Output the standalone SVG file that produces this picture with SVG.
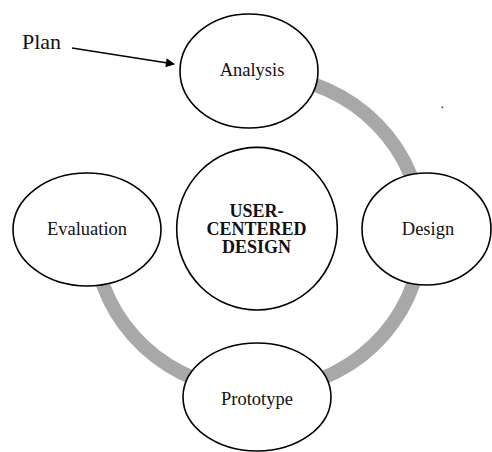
<svg xmlns="http://www.w3.org/2000/svg" width="492" height="452" viewBox="0 0 492 452">
  <style>
    .serif { font-family: 'Liberation Serif', Tinos, 'Times New Roman', 'DejaVu Serif', serif; }
    .node { fill: #ffffff; stroke: #000000; stroke-width: 1.6; }
    .label { font-size: 18.5px; fill: #111111; text-anchor: middle; }
    .core { font-size: 18px; font-weight: bold; fill: #111111; text-anchor: middle; }
    .ring { fill: none; stroke: #a8a8a8; stroke-width: 14; }
    .arrow { stroke: #000000; stroke-width: 1.6; fill: none; }
  </style>
  <defs>
    <marker id="head" viewBox="0 0 10 10" refX="9" refY="5" markerWidth="11" markerHeight="9" orient="auto" markerUnits="userSpaceOnUse">
      <path d="M0,0 L10,5 L0,10 z" fill="#000000"/>
    </marker>
  </defs>

  <rect width="492" height="452" fill="#ffffff"/>

  <!-- connectors: the cycle ring and the Plan pointer -->
  <g id="connectors">
    <path class="ring" d="M 99.6 273.9 A 164 158 0 1 0 272.3 75.6"/>
    <line class="arrow" x1="72" y1="48" x2="174" y2="64" marker-end="url(#head)"/>
  </g>

  <text class="serif" x="22" y="48.5" font-size="22" fill="#111111">Plan</text>

  <g id="analysis">
    <ellipse class="node" cx="249" cy="71" rx="69" ry="57"/>
    <text class="serif label" x="252" y="76">Analysis</text>
  </g>

  <g id="design">
    <ellipse class="node" cx="426.5" cy="229" rx="64.5" ry="56"/>
    <text class="serif label" x="428" y="235">Design</text>
  </g>

  <g id="prototype">
    <ellipse class="node" cx="257" cy="397" rx="74" ry="54"/>
    <text class="serif label" x="257" y="405">Prototype</text>
  </g>

  <g id="evaluation">
    <ellipse class="node" cx="87" cy="229.5" rx="74" ry="56.5"/>
    <text class="serif label" x="87" y="235">Evaluation</text>
  </g>

  <g id="user-centered-design">
    <ellipse class="node" cx="257" cy="228.7" rx="80.3" ry="81.3"/>
    <text class="serif core" x="256.5" y="217.3">USER-</text>
    <text class="serif core" x="256.5" y="235">CENTERED</text>
    <text class="serif core" x="256.5" y="252.7">DESIGN</text>
  </g>

  <rect x="441.5" y="106.5" width="1.6" height="1.6" fill="#2233dd"/>
</svg>
